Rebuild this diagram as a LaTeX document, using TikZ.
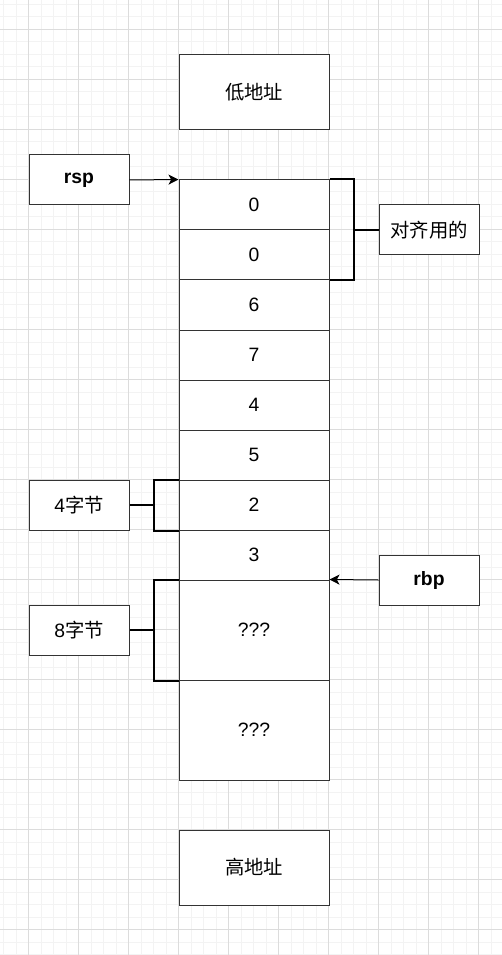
\documentclass[tikz,border=0pt]{standalone}
\usepackage{fontspec}
\setmainfont{Liberation Sans}
\newfontfamily\cjk{Noto Sans CJK SC}
\usetikzlibrary{arrows.meta}
\definecolor{gmin}{HTML}{F3F3F3}
\definecolor{gmaj}{HTML}{DCDCDC}
\definecolor{edge}{HTML}{333333}
\begin{document}
\begin{tikzpicture}[x=0.75pt,y=-0.75pt,
  box/.style={draw=edge,line width=0.75pt,fill=white,inner sep=0pt,
    font=\fontsize{14.5}{17}\selectfont},
  wide/.style={box,minimum width=112.5pt,minimum height=56.25pt},
  cellbox/.style={box,minimum width=112.5pt,minimum height=37.5pt},
  tallcell/.style={box,minimum width=112.5pt,minimum height=75pt},
  label/.style={box,minimum width=75pt,minimum height=37.5pt},
  brk/.style={draw=black,line width=1.5pt},
  arr/.style={draw=black,line width=0.75pt,-{Stealth[length=7.5pt,width=7.5pt,inset=2pt]}},
  gridmin/.style={draw=gmin,line width=0.75pt},
  gridmaj/.style={draw=gmaj,line width=0.75pt}]
\useasboundingbox (0,0) rectangle (502,955);
\fill[white] (0,0) rectangle (502,955);
% grid
\foreach \i in {0,...,40} \draw[gridmin] ({3.5+12.5*\i},0) -- ({3.5+12.5*\i},955);
\foreach \i in {0,...,77} \draw[gridmin] (0,{4.5+12.5*\i}) -- (502,{4.5+12.5*\i});
\foreach \i in {0,...,9} \draw[gridmaj] ({28.5+50*\i},0) -- ({28.5+50*\i},955);
\foreach \i in {0,...,18} \draw[gridmaj] (0,{29.5+50*\i}) -- (502,{29.5+50*\i});
% nodes
\node[wide] (low) at (254,92.5) {\cjk 低地址};
\node[label] (rsp) at (79,180) {\bfseries rsp};
\node[cellbox] (c1) at (254,205) {0};
\node[cellbox] (c2) at (254,255) {0};
\node[cellbox] (c3) at (254,305) {6};
\node[cellbox] (c4) at (254,355) {7};
\node[cellbox] (c5) at (254,405) {4};
\node[cellbox] (c6) at (254,455) {5};
\node[cellbox] (c7) at (254,505) {2};
\node[cellbox] (c8) at (254,555) {3};
\node[tallcell] (c9) at (254,630) {???};
\node[tallcell] (c10) at (254,730) {???};
\node[wide] (high) at (254,867.5) {\cjk 高地址};
\node[label] (align) at (429,230) {\cjk 对齐用的};
\node[label] (b4) at (79,505) {4{\cjk 字节}};
\node[label] (b8) at (79,630) {8{\cjk 字节}};
\node[label] (rbp) at (429,580) {\bfseries rbp};
% bracket coordinates
\coordinate (rbA) at (354,230);
\coordinate (lb4) at (154,505);
\coordinate (lb8) at (154,630);
% brackets
\draw[brk] (c1.north east) -| (rbA) |- (c2.south east);
\draw[brk] (rbA) -- (align.west);
\draw[brk] (c7.north west) -| (lb4) |- (c7.south west);
\draw[brk] (lb4) -- (b4.east);
\draw[brk] (c9.north west) -| (lb8) |- (c9.south west);
\draw[brk] (lb8) -- (b8.east);
% pointers
\draw[arr] (rsp.east) -- (c1.north west);
\draw[arr] (rbp.west) -- (c9.north east);
\end{tikzpicture}
\end{document}
